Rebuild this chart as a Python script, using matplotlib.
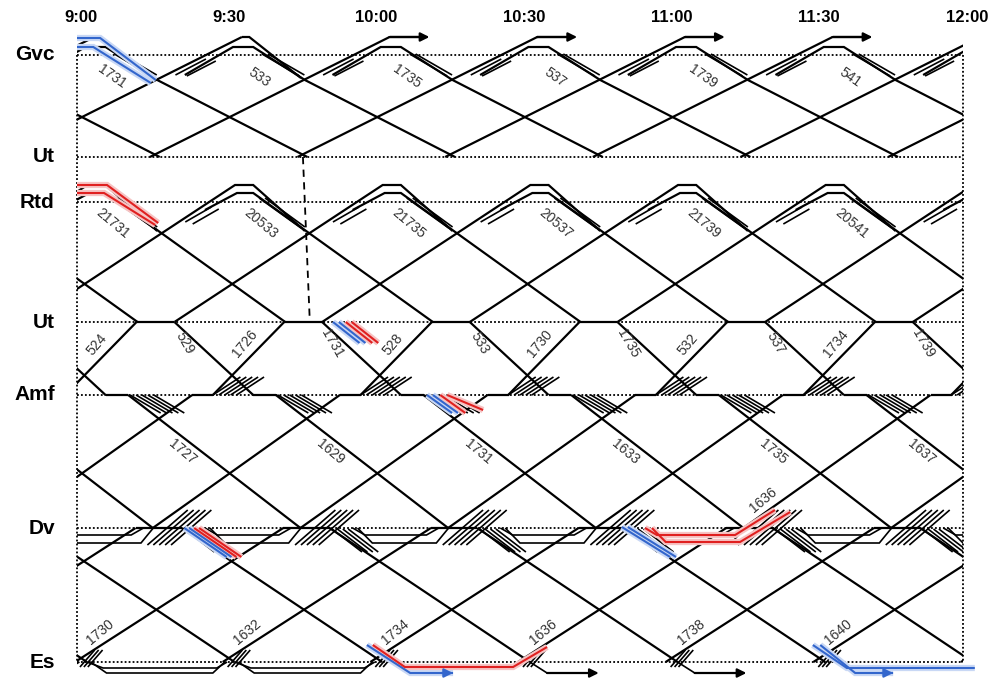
import matplotlib.pyplot as plt
from matplotlib.patches import Rectangle

plt.rcParams['font.family'] = ['Liberation Sans', 'DejaVu Sans']

# stations, top to bottom (position along the diagram)
stations = ["Gvc", "Ut", "Rtd", "Ut", "Amf", "Dv", "Es"]
station_pos = [0.0, 10.2, 14.7, 26.7, 34.0, 47.3, 60.7]

time_ticks = [0, 30, 60, 90, 120, 150, 180]
time_labels = ["9:00", "9:30", "10:00", "10:30", "11:00", "11:30", "12:00"]

# the timetable repeats every half hour; paths are (minutes after 9:00, position)
period = 30
cycles = [-2, -1, 0, 1, 2, 3, 4, 5, 6]

# Gvc - Ut
gvc_up = [(-15.2, 10.2), (33.5, -1.8)]
gvc_down = [(21.9, 2.0), (31.7, -0.8), (35.8, -0.8), (46.3, 2.5), (76.8, 10.2)]
gvc_arrow = [(33.5, -1.8), (41.6, -1.8)]
gvc_outer_down = [(33.5, -1.8), (35.0, -1.8), (45.5, 2.3)]
gvc_bundle = [[(20.0, 2.0), (26.2, 0.4)], [(22.3, 2.1), (28.2, 0.6)],
              [(37.6, -0.1), (45.2, 2.1)], [(38.8, -0.1), (46.2, 2.0)]]

# Rtd - Ut
rtd_up = [(-10.2, 26.7), (32.1, 13.0), (35.8, 13.0), (46.3, 17.6)]
rtd_down = [(26.0, 15.5), (32.5, 13.8), (35.8, 13.8), (72.3, 26.7)]
rtd_bundle = [[(22.0, 16.7), (27.3, 15.2)], [(23.5, 16.9), (28.8, 15.4)],
              [(37.0, 14.3), (45.5, 17.3)], [(38.2, 14.3), (46.3, 17.2)]]

# Ut - Amf
ut_stop = [(12.1, 26.7), (19.8, 26.7)]
ut_amf_down = [(19.8, 26.7), (35.8, 34.0)]
amf_ut_up = [(-2.4, 34.0), (12.1, 26.7)]

# Amf - Dv
amf_stop_down = [(35.8, 34.0), (40.4, 34.0)]
amf_dv_down = [(40.4, 34.0), (75.4, 47.3)]
dv_amf_up = [(15.4, 47.3), (53.4, 34.0)]
amf_stop_up = [(53.4, 34.0), (57.7, 34.0)]
amf_bundle_down = [[(10.8 + 1.2 * i, 34.0), (17.0 + 1.2 * i, 35.8)] for i in range(5)]
amf_bundle_up = [[(27.6 + 1.2 * i, 34.0), (33.2 + 1.2 * i, 32.2)] for i in range(5)]

# Dv - Es
dv_stop_down = [(15.4, 47.3), (21.3, 47.3)]
dv_es_down = [(21.3, 47.3), (62.0, 60.7)]
es_dv_up = [(-0.4, 60.7), (41.9, 47.3)]
dv_stop_up = [(41.9, 47.3), (45.5, 47.3)]
dv_bundle_up = [[(14.3 + 1.2 * i, 49.0), (22.5 + 1.2 * i, 45.5)] for i in range(5)]
dv_bundle_down = [[(21.8 + 1.1 * i, 47.4), (27.9 + 1.1 * i, 49.7)] for i in range(4)]
dv_sidings = [[(-4.0, 47.3), (-1.5, 48.0), (11.0, 48.0), (13.5, 47.3)],
              [(-3.0, 47.3), (0.0, 48.8), (13.0, 48.8), (15.5, 47.3)]]
es_bundle = [[(0.6 + 0.8 * i, 61.2), (3.6 + 0.8 * i, 59.5)] for i in range(3)]
es_turn = [[(2.0, 60.7), (5.3, 61.3), (28.4, 61.3), (30.5, 60.7)],
           [(2.8, 60.7), (6.0, 61.8), (27.6, 61.8), (30.0, 60.7)]]
es_onward = [(2.0, 60.7), (5.5, 61.8), (16.0, 61.8)]

# highlighted runs
blue_paths = [
    [(0, -1.7), (4.7, -1.7), (16.0, 2.5)],
    [(0, -0.8), (3.3, -0.8), (15.0, 2.8)],
    [(52.0, 26.7), (57.4, 28.8)], [(53.2, 26.7), (58.6, 28.8)],
    [(71.1, 34.0), (76.2, 35.8)], [(72.3, 34.0), (77.4, 35.8)],
    [(21.8, 47.3), (30.4, 50.2)], [(22.8, 47.3), (31.4, 50.2)],
    [(110.7, 47.2), (120.5, 50.2)], [(111.9, 47.2), (121.7, 50.2)],
    [(58.9, 59.0), (67.7, 61.8), (76.4, 61.8)],
    [(149.5, 59.0), (156.4, 61.3), (182.4, 61.3)],
    [(151.0, 59.0), (158.1, 61.8), (165.8, 61.8)],
]
red_paths = [
    [(0, 13.0), (6.1, 13.0), (16.5, 16.8)],
    [(0, 13.8), (5.5, 13.8), (15.9, 17.0)],
    [(54.6, 26.7), (60.0, 28.8)], [(55.8, 26.7), (61.2, 28.8)],
    [(73.8, 34.0), (78.9, 35.8)], [(75.2, 34.0), (82.5, 35.5)],
    [(23.8, 47.3), (32.4, 50.2)], [(24.8, 47.3), (33.4, 50.2)],
    [(115.4, 47.3), (117.8, 48.0), (133.7, 48.0), (141.8, 45.5)],
    [(116.8, 47.3), (119.6, 48.7), (134.7, 48.7), (144.9, 45.7)],
    [(60.1, 59.0), (66.6, 61.2), (88.6, 61.2), (95.5, 59.2)],
]

gvc_labels = ["1731", "533", "1735", "537", "1739", "541"]
rtd_labels = ["21731", "20533", "21735", "20537", "21739", "20541"]
ut_up_labels = ["524", "1726", "528", "1730", "532", "1734"]
ut_down_labels = ["529", "1731", "533", "1735", "537", "1739"]
amf_labels = ["1727", "1629", "1731", "1633", "1735", "1637"]
es_labels = ["1730", "1632", "1734", "1636", "1738", "1640"]

px_per_min = (963 - 77) / 180
fig = plt.figure(figsize=(9.97, 6.82), dpi=100)
ax = fig.add_axes([0, 0, 1, 1])
ax.set_xlim(-77 / px_per_min, 920 / px_per_min)
ax.set_ylim(62.7, -5.5)
ax.axis('off')

frame_clip = Rectangle((0, -5), 180, 70, transform=ax.transData)


def draw(pts, shift=0.0, color='black', lw=1.6, clip=True, z=3):
    ts = [p[0] + shift for p in pts]
    ys = [p[1] for p in pts]
    ln, = ax.plot(ts, ys, color=color, lw=lw, solid_capstyle='butt',
                  solid_joinstyle='miter', zorder=z)
    if clip:
        ln.set_clip_path(frame_clip)


def arrow(pts, shift=0.0, color='black'):
    ax.annotate('', xy=(pts[-1][0] + shift, pts[-1][1]),
                xytext=(pts[-2][0] + shift, pts[-2][1]),
                arrowprops=dict(arrowstyle='-|>', color=color, lw=1.6,
                                mutation_scale=13, shrinkA=0, shrinkB=0),
                zorder=6)


# station lines and frame
for name, pos in zip(stations, station_pos):
    ax.plot([0, 180], [pos, pos], color='black', lw=1.3, ls=(0, (1, 1.2)), zorder=1)
    ax.text(-4.5, pos, name, ha='right', va='center', fontsize=15, fontweight='bold')
for t in [0, 180]:
    ax.plot([t, t], [station_pos[0], station_pos[-1]], color='black', lw=1.3,
            ls=(0, (1, 1.2)), zorder=1)
for t, lab in zip(time_ticks, time_labels):
    ax.text(t + 0.8, -3.7, lab, ha='center', va='center', fontsize=12, fontweight='bold')

# 1731 from Gvc continues at Ut
ax.plot([45.9, 47.3], [10.2, 26.7], color='black', lw=1.3, ls=(0, (4, 3)), zorder=2)

recurring = [gvc_up, gvc_down, rtd_up, rtd_down, ut_stop, ut_amf_down, amf_ut_up,
             amf_stop_down, amf_dv_down, dv_amf_up, amf_stop_up,
             dv_stop_down, dv_es_down, es_dv_up, dv_stop_up]
for k in cycles:
    s = k * period
    for path in recurring:
        draw(path, s)
    for path in gvc_bundle + rtd_bundle + amf_bundle_down + dv_sidings + es_bundle:
        draw(path, s, lw=1.2)
    if k >= 0:
        for path in amf_bundle_up + dv_bundle_up + dv_bundle_down:
            draw(path, s, lw=1.2)
    if k <= 1:
        for path in es_turn:
            draw(path, s, lw=1.2)
    if k in (3, 4):
        draw(es_onward[:-1] + [(es_onward[-1][0] - 1.0, es_onward[-1][1])], s, lw=1.2)
        arrow(es_onward, s)
    if k == 0:
        draw(gvc_outer_down, s)
    if 1 <= k <= 4:
        draw(gvc_arrow[:1] + [(gvc_arrow[1][0] - 1.0, gvc_arrow[1][1])], s)
        arrow(gvc_arrow, s)

for path in blue_paths:
    draw(path, color='#c9d8f5', lw=4.5, clip=False, z=5)
    draw(path, color='#3366cc', lw=1.5, clip=False, z=6)
for path in red_paths:
    draw(path, color='#f6c4c4', lw=4.5, clip=False, z=5)
    draw(path, color='#e02020', lw=1.5, clip=False, z=6)
arrow([(74.0, 61.8), (76.4, 61.8)], color='#3366cc')
arrow([(163.4, 61.8), (165.8, 61.8)], color='#3366cc')

# train numbers
lab_style = dict(fontsize=10, color='#333333', ha='center', va='center', zorder=7)
for i, lab in enumerate(gvc_labels):
    ax.text(7.1 + period * i, 2.2, lab, rotation=-35, **lab_style)
for i, lab in enumerate(rtd_labels):
    ax.text(7.3 + period * i, 16.8, lab, rotation=-40, **lab_style)
for i, lab in enumerate(ut_up_labels):
    ax.text(4.1 + period * i, 28.9, lab, rotation=50, **lab_style)
for i, lab in enumerate(ut_down_labels):
    ax.text(21.9 + period * i, 28.8, lab, rotation=-60, **lab_style)
for i, lab in enumerate(amf_labels):
    ax.text(21.5 + period * i, 39.7, lab, rotation=-40, **lab_style)
for i, lab in enumerate(es_labels):
    ax.text(4.7 + period * i, 57.7, lab, rotation=40, **lab_style)
ax.text(139.4, 44.5, "1636", rotation=40, **lab_style)

fig.savefig("out.png", dpi=100)
